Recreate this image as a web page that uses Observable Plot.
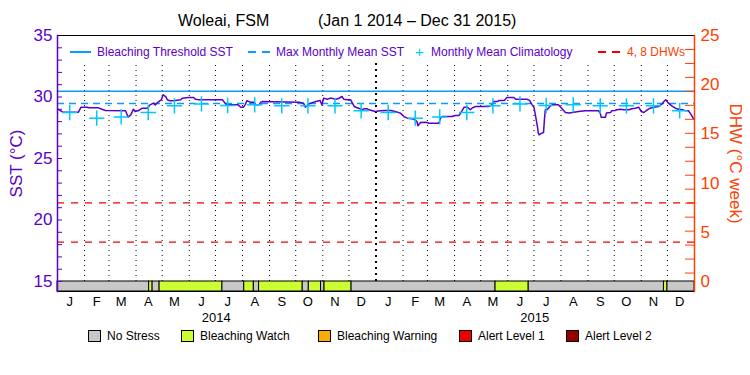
<!DOCTYPE html>
<html><head><meta charset="utf-8">
<script src="https://cdn.jsdelivr.net/npm/d3@7"></script>
<script src="https://cdn.jsdelivr.net/npm/@observablehq/plot@0.6"></script>
<style>
body{margin:0;background:#fff;font-family:"Liberation Sans",Arial,sans-serif;}
#wrap{position:relative;width:750px;height:375px;overflow:hidden;background:#fff;}
#title{position:relative;height:25px;font-size:16px;color:#000;}
#title span{position:absolute;top:13px;white-space:pre;line-height:1;}
.abs{position:absolute;white-space:pre;line-height:1;}
#legend{position:relative;height:50px;font-size:12px;}
.box{position:absolute;width:13px;height:12px;border:1px solid #000;box-sizing:border-box;}
</style></head><body>
<div id="wrap">
  <div id="title"><span style="left:178px">Woleai, FSM</span><span style="left:318px">(Jan 1 2014 – Dec 31 2015)</span></div>
  <div id="chart"></div>
  <div id="legend"></div>
  <div id="toplegend"></div>
</div>
<script>
// ---- data ----
const sstDates = [
"2014-01-01","2014-01-03","2014-01-07","2014-01-25","2014-01-28","2014-02-04","2014-02-06","2014-02-17","2014-02-21","2014-02-25",
"2014-03-20","2014-03-23","2014-03-26","2014-03-29","2014-03-31","2014-04-04","2014-04-08","2014-04-14","2014-04-17","2014-04-21",
"2014-04-23","2014-04-27","2014-04-30","2014-05-02","2014-05-05","2014-05-07","2014-05-10","2014-05-16","2014-05-22","2014-05-24",
"2014-05-31","2014-06-06","2014-06-08","2014-06-12","2014-07-09","2014-07-12","2014-07-14","2014-07-27","2014-07-30","2014-08-02",
"2014-08-04","2014-08-06","2014-08-10","2014-08-14","2014-08-16","2014-08-20","2014-08-22","2014-08-24","2014-10-05","2014-10-10",
"2014-10-12","2014-10-16","2014-10-24","2014-10-29","2014-10-31","2014-11-02","2014-11-06","2014-11-10","2014-11-16","2014-11-19",
"2014-11-23","2014-11-25","2014-11-29","2014-12-03","2014-12-07","2014-12-09","2014-12-12","2014-12-16","2014-12-18","2014-12-22",
"2014-12-24","2014-12-28","2014-12-31",
"2015-01-06","2015-01-12","2015-01-18","2015-01-23","2015-01-29","2015-02-02","2015-02-06","2015-02-13","2015-02-17","2015-02-18",
"2015-02-21","2015-02-27","2015-03-03","2015-03-14","2015-03-16","2015-03-18","2015-03-29","2015-04-02","2015-04-06","2015-04-08",
"2015-04-12","2015-04-16","2015-04-19","2015-04-21","2015-04-25","2015-05-10","2015-05-14","2015-05-16","2015-05-20","2015-05-22",
"2015-05-28","2015-05-30","2015-05-31","2015-06-08","2015-06-10","2015-06-23","2015-06-26","2015-06-29","2015-07-01","2015-07-03",
"2015-07-05","2015-07-06","2015-07-07","2015-07-10","2015-07-12","2015-07-13","2015-07-14","2015-07-16","2015-07-20","2015-07-22",
"2015-07-29","2015-07-31","2015-08-04","2015-08-06","2015-08-10","2015-08-14","2015-08-21","2015-08-29","2015-09-13","2015-09-15",
"2015-09-16","2015-09-21","2015-09-22","2015-09-27","2015-09-28","2015-10-02","2015-10-04","2015-10-08","2015-10-12","2015-10-18",
"2015-10-21","2015-10-25","2015-10-29","2015-11-01","2015-11-04","2015-11-08","2015-11-11","2015-11-15","2015-11-21","2015-11-25",
"2015-11-27","2015-11-29","2015-11-30","2015-12-02","2015-12-06","2015-12-10","2015-12-14","2015-12-18","2015-12-21","2015-12-25",
"2015-12-27","2015-12-29","2015-12-31"
];
const sstValues = [
29.01,28.96,28.77,28.77,29.17,29.17,29.12,29.12,29.00,28.90,
28.88,28.36,28.55,29.01,28.82,28.90,29.09,29.09,29.36,29.50,
29.36,29.63,29.77,30.18,30.04,29.77,29.69,29.72,29.77,29.90,
29.96,29.96,29.82,29.77,29.77,29.50,29.36,29.36,29.17,29.17,
29.36,29.69,29.58,29.58,29.36,29.36,29.58,29.63,29.58,29.50,
29.17,29.44,29.63,29.72,29.36,29.91,29.82,29.91,29.82,29.88,
30.04,29.82,29.77,29.77,29.23,29.17,29.09,28.96,29.04,29.04,
28.96,28.88,28.82,
28.88,28.90,28.90,28.82,28.69,28.41,28.28,28.22,28.00,27.66,
27.93,27.95,27.87,27.87,28.28,28.41,28.41,28.50,28.50,28.69,
29.17,29.17,28.96,29.09,29.23,29.23,29.36,29.63,29.63,29.72,
29.72,29.88,29.96,29.96,29.82,29.82,29.72,29.36,29.17,28.41,
27.60,27.06,26.92,27.06,27.11,28.14,28.96,28.96,29.28,29.36,
29.36,29.23,28.90,28.74,28.69,28.74,28.82,28.88,28.88,28.69,
28.36,28.36,28.69,28.74,28.88,28.90,28.96,29.01,28.96,28.96,
29.04,29.09,29.17,28.82,28.74,28.96,29.09,29.17,29.23,29.45,
29.63,29.77,29.69,29.50,29.28,29.09,29.01,28.96,28.90,28.88,
28.69,28.47,28.20
];
const climYears = [2014, 2015];
const climValues = [28.74,28.28,28.38,28.74,29.28,29.44,29.31,29.36,29.28,29.28,29.28,28.88];
const bleachingThreshold = 30.47;
const maxMonthlyMean = 29.47;
const dhwLevels = [4, 8];
const statusStarts = ["2014-01-01","2014-04-16","2014-04-20","2014-04-28","2014-07-09","2014-08-03","2014-08-14","2014-08-20","2014-10-09","2014-10-16","2014-10-30","2014-11-03","2014-12-04","2015-05-18","2015-06-25","2015-11-27","2015-12-01"];
const statusEnds   = ["2014-04-16","2014-04-20","2014-04-28","2014-07-09","2014-08-03","2014-08-14","2014-08-20","2014-10-09","2014-10-16","2014-10-30","2014-11-03","2014-12-04","2015-05-18","2015-06-25","2015-11-27","2015-12-01","2016-01-01"];
const statusLevels = ["No Stress","Bleaching Watch","No Stress","Bleaching Watch","No Stress","Bleaching Watch","No Stress","Bleaching Watch","No Stress","Bleaching Watch","No Stress","Bleaching Watch","No Stress","Bleaching Watch","No Stress","Bleaching Watch","No Stress"];
const legendLevels = ["No Stress","Bleaching Watch","Bleaching Warning","Alert Level 1","Alert Level 2"];
const legendColors = ["#c8c8c8","#ccff33","#ffaa00","#ee0000","#960000"];
const sstTicks = [15,20,25,30,35];
const dhwTicks = [0,5,10,15,20,25];
const monthLetters = ["J","F","M","A","M","J","J","A","S","O","N","D"];

// ---- styles ----
const purple = "#5a00c8", blue = "#0a9bff", cyan = "#00c8ff", red = "#f00000", axisRed = "#ff4000";
const font = '"Liberation Sans", Arial, sans-serif';
const levelColor = Object.fromEntries(legendLevels.map((l,i)=>[l, legendColors[i]]));
const toSST = d => 15 + d * 20 / 25;
const barBottom = 15 - 10 / 12.3;

const sst = sstDates.map((d,i)=>({date:new Date(d), value:sstValues[i]}));
const clim = climYears.flatMap(y => climValues.map((v,m)=>({date:new Date(Date.UTC(y,m,15)), value:v})));
const status = statusStarts.map((s,i)=>({start:new Date(s), end:new Date(statusEnds[i]), level:statusLevels[i]}));
const start = new Date("2014-01-01"), end = new Date("2016-01-01");
const yearStart = new Date("2015-01-01");
const monthStarts = d3.utcMonth.range(new Date("2014-02-01"), end).filter(d => +d !== +yearStart);
const midMonths = d3.utcMonth.range(start, end).map(d => d3.utcDay.offset(d, 14));
const yearMids = climYears.map(y => new Date(Date.UTC(y, 6, 2)));
const rightTickVals = d3.range(0, 18).map(k => toSST(25 - k * 1.42));

const chart = Plot.plot({
  width: 750, height: 300,
  marginTop: 10, marginBottom: 34, marginLeft: 57, marginRight: 56,
  x: {type: "utc", domain: [start, end]},
  y: {domain: [barBottom, 35]},
  color: {type: "identity"},
  style: {fontFamily: font, background: "white", overflow: "visible"},
  marks: [
    Plot.ruleX(monthStarts, {y1: 15, y2: 32.8, stroke: "black", strokeDasharray: "1,4"}),
    Plot.ruleX([yearStart], {y1: 15, y2: 32.8, stroke: "black", strokeWidth: 2, strokeDasharray: "2,4"}),
    Plot.ruleY([bleachingThreshold], {stroke: blue, strokeWidth: 1.5}),
    Plot.ruleY([maxMonthlyMean], {stroke: blue, strokeWidth: 1.5, strokeDasharray: "7,5"}),
    Plot.ruleY(dhwLevels.map(toSST), {stroke: red, strokeWidth: 1.2, strokeDasharray: "7,7"}),
    Plot.line(sst, {x: "date", y: "value", stroke: purple, strokeWidth: 1.5}),
    Plot.dot(clim, {x: "date", y: "value", symbol: "plus", r: 5, stroke: cyan, strokeWidth: 1.5}),
    Plot.rect(status, {x1: "start", x2: "end", y1: barBottom, y2: 15, fill: d => levelColor[d.level], stroke: "black", strokeWidth: 1}),
    Plot.ruleY(d3.range(15, 36), {stroke: purple, insetRight: 632}),
    Plot.ruleY(rightTickVals, {stroke: axisRed, insetLeft: 628}),
    Plot.frame({stroke: "black"}),
    Plot.frame({anchor: "left", stroke: purple, strokeWidth: 1.5}),
    Plot.frame({anchor: "right", stroke: axisRed, strokeWidth: 1.5}),
    Plot.axisY(sstTicks, {anchor: "left", tickSize: 0, tickPadding: 5, color: purple, fontSize: 17, label: null}),
    Plot.axisY(dhwTicks.map(toSST), {anchor: "right", tickSize: 0, tickPadding: 6, tickFormat: d => String(Math.round((d - 15) * 25 / 20)), color: axisRed, fontSize: 17, label: null}),
    Plot.axisX(midMonths, {tickSize: 0, tickPadding: 5, tickFormat: d => monthLetters[d.getUTCMonth()], fontSize: 13, color: "black", label: null}),
    Plot.axisX(yearMids, {tickSize: 0, tickPadding: 21, tickFormat: d => String(d.getUTCFullYear()), fontSize: 13, color: "black", label: null}),
    Plot.text(["SST (°C)"], {frameAnchor: "left", textAnchor: "middle", dx: -41, rotate: -90, fill: purple, fontSize: 17}),
    Plot.text(["DHW (°C week)"], {frameAnchor: "right", textAnchor: "middle", dx: 41, rotate: 90, fill: axisRed, fontSize: 17})
  ]
});
document.getElementById("chart").appendChild(chart);

// bottom legend
const legendX = [88, 181, 318, 459, 566];
const leg = document.getElementById("legend");
legendLevels.forEach((l,i)=>{
  const b = document.createElement("div");
  b.className = "box"; b.style.left = legendX[i] + "px"; b.style.top = "5px"; b.style.background = legendColors[i];
  leg.appendChild(b);
  const t = document.createElement("span");
  t.className = "abs"; t.style.left = (legendX[i] + 19) + "px"; t.style.top = "5px"; t.textContent = l;
  leg.appendChild(t);
});

// top legend (inside the plot)
const tl = document.getElementById("toplegend");
tl.innerHTML = `
<div class="abs" style="left:70px;top:51px;width:21px;height:1.5px;background:${blue}"></div>
<span class="abs" style="left:97px;top:46px;font-size:12px;color:${purple}">Bleaching Threshold SST</span>
<div class="abs" style="left:248px;top:51px;width:22px;height:1.5px;background:repeating-linear-gradient(90deg,${blue} 0 8px,transparent 8px 14px)"></div>
<span class="abs" style="left:276px;top:46px;font-size:12px;color:${purple}">Max Monthly Mean SST</span>
<span class="abs" style="left:415px;top:44px;font-size:15px;color:${cyan}">+</span>
<span class="abs" style="left:431px;top:46px;font-size:12px;color:${purple}">Monthly Mean Climatology</span>
<div class="abs" style="left:598px;top:51px;width:22px;height:1.5px;background:repeating-linear-gradient(90deg,${red} 0 8px,transparent 8px 14px)"></div>
<span class="abs" style="left:627px;top:46px;font-size:12px;color:${axisRed}">4, 8 DHWs</span>`;
</script>
</body></html>
